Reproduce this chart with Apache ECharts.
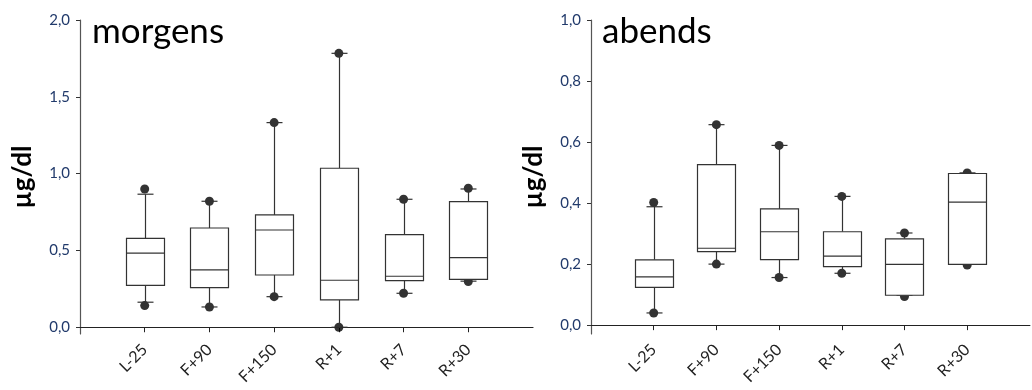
<!DOCTYPE html>
<html>
<head>
<meta charset="utf-8">
<script src="https://cdn.jsdelivr.net/npm/echarts@6/dist/echarts.min.js"></script>
<style>
  html, body { margin: 0; padding: 0; background: #fff; }
  #chart { width: 1032px; height: 390px; }
</style>
</head>
<body>
<div id="chart"></div>
<script>
// categories (padded slots at both ends keep the axis running past the boxes)
var categories = ['L-25', 'F+90', 'F+150', 'R+1', 'R+7', 'R+30'];

// morgens (µg/dl)
var morgensWhiskerLow  = [0.163, 0.132, 0.199, 0.0,   0.221, 0.30];
var morgensQ1          = [0.273, 0.258, 0.340, 0.178, 0.303, 0.312];
var morgensMedian      = [0.483, 0.373, 0.633, 0.306, 0.332, 0.453];
var morgensQ3          = [0.579, 0.646, 0.731, 1.035, 0.603, 0.818];
var morgensWhiskerHigh = [0.866, 0.82,  1.332, 1.783, 0.833, 0.90];
var morgensDotLow      = [0.141, 0.132, 0.199, 0.0,   0.221, 0.297];
var morgensDotHigh     = [0.90,  0.82,  1.332, 1.783, 0.833, 0.905];

// abends (µg/dl)
var abendsWhiskerLow  = [0.040, 0.200, 0.156, 0.170, 0.098, 0.199];
var abendsQ1          = [0.124, 0.241, 0.215, 0.192, 0.098, 0.199];
var abendsMedian      = [0.158, 0.252, 0.306, 0.226, 0.199, 0.403];
var abendsQ3          = [0.214, 0.526, 0.381, 0.306, 0.283, 0.497];
var abendsWhiskerHigh = [0.388, 0.657, 0.589, 0.422, 0.302, 0.499];
var abendsDotLow      = [0.040, 0.200, 0.156, 0.170, 0.094, 0.197];
var abendsDotHigh     = [0.402, 0.657, 0.589, 0.422, 0.302, 0.499];

var morgensTicks = [0, 0.5, 1.0, 1.5, 2.0];
var abendsTicks = [0, 0.2, 0.4, 0.6, 0.8, 1.0];

var axisCats = [''].concat(categories).concat(['']);

function boxData(lo, q1, med, q3, hi) {
  return categories.map(function (c, i) {
    return [c, lo[i], q1[i], med[i], q3[i], hi[i]];
  });
}
function dotData(low, high) {
  var out = [];
  categories.forEach(function (c, i) {
    out.push([c, low[i]]);
    out.push([c, high[i]]);
  });
  return out;
}

var LINE = '#333';
var BOX_W = 38;
var CAP_W = 16;

function renderBox(params, api) {
  var x = api.value(0);
  var pLo = api.coord([x, api.value(1)]);
  var pQ1 = api.coord([x, api.value(2)]);
  var pMed = api.coord([x, api.value(3)]);
  var pQ3 = api.coord([x, api.value(4)]);
  var pHi = api.coord([x, api.value(5)]);
  var cx = Math.round(pMed[0]) + 0.5;
  var hw = BOX_W / 2, cw = CAP_W / 2;
  var st = { stroke: LINE, lineWidth: 1.2 };
  return {
    type: 'group',
    children: [
      { type: 'line', shape: { x1: cx, y1: pLo[1], x2: cx, y2: pQ1[1] }, style: st },
      { type: 'line', shape: { x1: cx, y1: pQ3[1], x2: cx, y2: pHi[1] }, style: st },
      { type: 'line', shape: { x1: cx - cw, y1: pLo[1], x2: cx + cw, y2: pLo[1] }, style: st },
      { type: 'line', shape: { x1: cx - cw, y1: pHi[1], x2: cx + cw, y2: pHi[1] }, style: st },
      { type: 'rect', shape: { x: cx - hw, y: pQ3[1], width: BOX_W, height: pQ1[1] - pQ3[1] },
        style: { fill: '#fff', stroke: LINE, lineWidth: 1.2 } },
      { type: 'line', shape: { x1: cx - hw, y1: pMed[1], x2: cx + hw, y2: pMed[1] }, style: st }
    ]
  };
}

function fmt(v) { return v.toFixed(1).replace('.', ','); }

var FONT = 'Lato, "Open Sans", sans-serif';

function xAxisCfg(gridIndex) {
  return {
    type: 'category', gridIndex: gridIndex, data: axisCats, boundaryGap: false,
    axisLine: { lineStyle: { color: '#222', width: 1.2 } },
    axisTick: { length: 5, interval: function (i, v) { return v !== ''; }, lineStyle: { color: '#222' } },
    axisLabel: { rotate: 45, margin: 13, color: '#222', fontSize: 16, fontFamily: FONT, interval: 0 },
    splitLine: { show: false }
  };
}
function yAxisCfg(gridIndex, min, max, ticks) {
  return {
    type: 'value', gridIndex: gridIndex, min: min, max: max,
    name: 'µg/dl', nameLocation: 'middle', nameGap: 44,
    nameTextStyle: { fontSize: 26, fontWeight: 'bold', color: '#000', fontFamily: FONT },
    axisLine: { show: true, lineStyle: { color: '#555', width: 1.2 } },
    axisTick: { show: true, length: 4, customValues: ticks, lineStyle: { color: '#333' } },
    axisLabel: { customValues: ticks, formatter: fmt, color: '#213a6b', fontSize: 15, margin: 10, fontFamily: FONT },
    splitLine: { show: false }
  };
}

var chart = echarts.init(document.getElementById('chart'));
chart.setOption({
  animation: false,
  backgroundColor: '#fff',
  title: [
    { text: 'morgens', left: 87, top: 9, textStyle: { fontSize: 35, fontWeight: 'normal', color: '#000', fontFamily: FONT } },
    { text: 'abends', left: 597, top: 9, textStyle: { fontSize: 35, fontWeight: 'normal', color: '#000', fontFamily: FONT } }
  ],
  grid: [
    { left: 80, top: 20, width: 453, height: 314 },
    { left: 591, top: 20, width: 452, height: 314 }
  ],
  xAxis: [xAxisCfg(0), xAxisCfg(1)],
  yAxis: [yAxisCfg(0, -0.044, 2.0, morgensTicks), yAxisCfg(1, -0.029, 1.0, abendsTicks)],
  series: [
    { type: 'scatter', xAxisIndex: 0, yAxisIndex: 0, z: 1, symbolSize: 9,
      itemStyle: { color: '#000' }, data: dotData(morgensDotLow, morgensDotHigh) },
    { type: 'custom', xAxisIndex: 0, yAxisIndex: 0, z: 2, renderItem: renderBox,
      encode: { x: 0, y: [1, 2, 3, 4, 5] },
      data: boxData(morgensWhiskerLow, morgensQ1, morgensMedian, morgensQ3, morgensWhiskerHigh) },
    { type: 'scatter', xAxisIndex: 1, yAxisIndex: 1, z: 1, symbolSize: 9,
      itemStyle: { color: '#000' }, data: dotData(abendsDotLow, abendsDotHigh) },
    { type: 'custom', xAxisIndex: 1, yAxisIndex: 1, z: 2, renderItem: renderBox,
      encode: { x: 0, y: [1, 2, 3, 4, 5] },
      data: boxData(abendsWhiskerLow, abendsQ1, abendsMedian, abendsQ3, abendsWhiskerHigh) }
  ]
});
</script>
</body>
</html>
